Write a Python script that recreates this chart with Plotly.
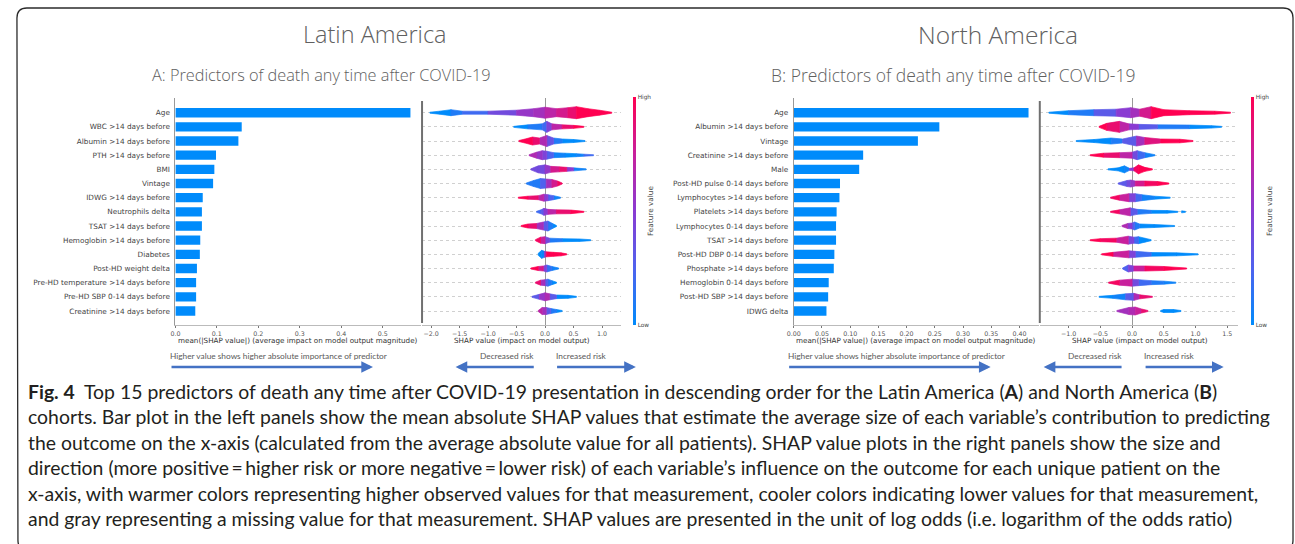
import plotly.graph_objects as go
from plotly.colors import sample_colorscale

W, H = 1295, 544

# ---------------- data ----------------
A_features = ["Age", "WBC >14 days before", "Albumin >14 days before", "PTH >14 days before",
              "BMI", "Vintage", "IDWG >14 days before", "Neutrophils delta", "TSAT >14 days before",
              "Hemoglobin >14 days before", "Diabetes", "Post-HD weight delta",
              "Pre-HD temperature >14 days before", "Pre-HD SBP 0-14 days before",
              "Creatinine >14 days before"]
A_mean_abs_shap = [0.567, 0.160, 0.152, 0.098, 0.094, 0.091, 0.066, 0.064, 0.064, 0.060,
                   0.059, 0.052, 0.050, 0.050, 0.048]

B_features = ["Age", "Albumin >14 days before", "Vintage", "Creatinine >14 days before", "Male",
              "Post-HD pulse 0-14 days before", "Lymphocytes >14 days before",
              "Platelets >14 days before", "Lymphocytes 0-14 days before", "TSAT >14 days before",
              "Post-HD DBP 0-14 days before", "Phosphate >14 days before",
              "Hemoglobin 0-14 days before", "Post-HD SBP >14 days before", "IDWG delta"]
B_mean_abs_shap = [0.416, 0.258, 0.220, 0.123, 0.116, 0.082, 0.081, 0.076, 0.075, 0.075,
                   0.072, 0.071, 0.062, 0.061, 0.058]

# SHAP value distribution per feature: SHAP value, local point density, mean feature value (0 low .. 1 high)
A_shap_x = [
    [-2.02, -1.85, -1.65, -1.45, -1.0, -0.5, -0.2, 0.0, 0.2, 0.4, 0.55, 0.75, 0.95, 1.17],
    [-0.55, -0.3, -0.05, 0.03, 0.12, 0.3, 0.5, 0.68],
    [-0.46, -0.35, -0.22, -0.1, 0.03, 0.15, 0.3, 0.5, 0.7],
    [-0.28, -0.15, -0.05, 0.03, 0.15, 0.35, 0.55, 0.68, 0.85],
    [-0.25, -0.12, 0.0, 0.1, 0.25, 0.38, 0.5, 0.72],
    [-0.33, -0.2, -0.08, 0.02, 0.12, 0.22, 0.3],
    [-0.47, -0.3, -0.12, -0.02, 0.05, 0.15, 0.27],
    [-0.15, -0.07, -0.02, 0.05, 0.2, 0.45, 0.68],
    [-0.42, -0.3, -0.15, -0.03, 0.05, 0.13, 0.2],
    [-0.17, -0.08, 0.0, 0.08, 0.3, 0.6, 0.8],
    [-0.12, -0.06, -0.01, 0.02, 0.15, 0.28, 0.38],
    [-0.25, -0.12, -0.03, 0.03, 0.12, 0.24],
    [-0.17, -0.08, 0.0, 0.05, 0.12, 0.2],
    [-0.23, -0.1, 0.0, 0.08, 0.2, 0.4, 0.55],
    [-0.12, -0.05, 0.02, 0.1, 0.2, 0.3],
]
A_shap_density = [
    [0.5, 1.5, 3.0, 1.5, 1.5, 2.5, 4.0, 5.5, 4.0, 5.0, 6.0, 4.0, 2.5, 0.5],
    [0.5, 2.0, 3.0, 5.5, 3.0, 2.0, 1.5, 0.5],
    [0.5, 2.0, 4.0, 3.0, 5.5, 3.0, 2.0, 1.5, 0.5],
    [0.5, 3.0, 4.5, 4.0, 2.5, 2.0, 1.5, 1.0, 0.5],
    [0.5, 3.5, 4.5, 3.0, 2.5, 2.0, 1.5, 0.5],
    [0.5, 3.0, 5.0, 4.5, 4.0, 2.5, 0.5],
    [0.5, 1.5, 2.0, 3.5, 3.0, 2.0, 0.5],
    [0.5, 2.0, 3.5, 2.5, 2.0, 1.8, 0.5],
    [0.5, 2.0, 2.5, 4.0, 5.0, 2.5, 0.5],
    [0.5, 3.0, 3.5, 2.0, 1.5, 1.2, 0.5],
    [1.0, 4.0, 3.0, 2.5, 2.0, 1.5, 0.5],
    [0.5, 2.0, 2.5, 3.5, 2.0, 0.5],
    [0.5, 2.5, 3.0, 3.5, 2.0, 0.5],
    [0.5, 2.5, 4.0, 3.0, 1.8, 1.5, 0.5],
    [0.5, 3.5, 3.5, 2.5, 1.5, 0.5],
]
A_shap_feature = [
    [0.0, 0.0, 0.05, 0.1, 0.35, 0.5, 0.6, 0.65, 0.75, 0.9, 0.95, 1.0, 1.0, 1.0],
    [0.0, 0.05, 0.1, 0.3, 0.6, 0.85, 0.95, 1.0],
    [1.0, 1.0, 0.95, 0.8, 0.5, 0.2, 0.05, 0.0, 0.0],
    [0.7, 0.6, 0.5, 0.4, 0.1, 0.0, 0.0, 0.1, 0.3],
    [0.4, 0.45, 0.4, 0.7, 0.9, 0.9, 0.1, 0.0],
    [0.1, 0.05, 0.1, 0.4, 0.75, 0.9, 1.0],
    [1.0, 0.95, 0.85, 0.6, 0.4, 0.1, 0.0],
    [0.2, 0.2, 0.35, 0.6, 0.85, 0.95, 1.0],
    [1.0, 1.0, 0.85, 0.4, 0.15, 0.05, 0.0],
    [1.0, 0.9, 0.6, 0.2, 0.0, 0.0, 0.0],
    [0.0, 0.0, 0.1, 1.0, 1.0, 1.0, 1.0],
    [1.0, 0.95, 0.7, 0.2, 0.1, 0.0],
    [0.9, 0.85, 0.4, 0.1, 0.05, 0.0],
    [0.2, 0.4, 0.7, 0.6, 0.05, 0.0, 0.0],
    [0.7, 0.7, 0.45, 0.2, 0.05, 0.0],
]

B_shap_x = [
    [-1.31, -1.0, -0.6, -0.25, -0.02, 0.12, 0.3, 0.5, 0.9, 1.3, 1.55],
    [-0.52, -0.4, -0.2, -0.05, 0.1, 0.4, 0.9, 1.25, 1.41],
    [-0.88, -0.6, -0.33, -0.15, 0.07, 0.2, 0.45, 0.75, 0.96],
    [-0.66, -0.45, -0.2, 0.0, 0.08, 0.2, 0.36],
    [-0.38, -0.22, -0.12, -0.04, 0.03, 0.1, 0.2, 0.32],
    [-0.22, -0.08, -0.02, 0.05, 0.2, 0.4, 0.58],
    [-0.34, -0.2, -0.05, 0.05, 0.15, 0.35, 0.6],
    [-0.34, -0.2, -0.03, 0.08, 0.3, 0.55, 0.72, None, 0.78, 0.84],
    [-0.16, -0.07, 0.0, 0.04, 0.12, 0.35, 0.67],
    [-0.66, -0.5, -0.25, -0.06, 0.03, 0.1, 0.2, 0.3],
    [-0.48, -0.3, -0.05, 0.05, 0.3, 0.7, 1.04],
    [-0.15, -0.06, 0.03, 0.2, 0.5, 0.86],
    [-0.37, -0.2, 0.0, 0.1, 0.3, 0.5, 0.69],
    [-0.52, -0.3, -0.1, 0.03, 0.12, 0.32],
    [-0.24, -0.05, 0.05, 0.15, 0.25, None, 0.45, 0.5, 0.65, 0.77],
]
B_shap_density = [
    [0.5, 2.0, 3.0, 3.5, 5.0, 3.5, 6.0, 3.0, 2.0, 1.5, 0.5],
    [0.5, 3.5, 5.5, 3.0, 2.5, 2.0, 1.8, 1.2, 0.5],
    [0.5, 1.5, 3.0, 2.0, 5.0, 3.5, 2.0, 1.8, 0.5],
    [0.5, 2.0, 2.5, 3.0, 4.5, 2.5, 0.5],
    [0.5, 1.5, 3.5, 1.0, 1.5, 4.5, 2.0, 0.5],
    [0.5, 3.0, 3.5, 2.5, 2.5, 2.0, 0.5],
    [0.5, 2.5, 4.0, 4.0, 3.0, 1.5, 0.5],
    [0.5, 2.0, 4.0, 2.5, 1.5, 1.3, 0.5, None, 1.0, 0.5],
    [0.5, 2.5, 3.0, 4.0, 2.0, 1.5, 0.5],
    [0.5, 1.5, 2.0, 4.0, 3.0, 3.5, 2.0, 0.5],
    [0.5, 2.0, 3.5, 3.0, 1.8, 1.5, 0.5],
    [0.5, 3.5, 2.5, 2.5, 2.0, 0.5],
    [0.5, 2.5, 3.5, 3.0, 2.0, 1.5, 0.5],
    [0.5, 1.5, 3.0, 3.5, 2.0, 0.5],
    [0.5, 3.5, 4.0, 2.0, 0.5, None, 0.5, 1.5, 1.5, 0.5],
]
B_shap_feature = [
    [0.0, 0.0, 0.15, 0.4, 0.55, 0.7, 0.95, 1.0, 1.0, 1.0, 1.0],
    [1.0, 1.0, 0.85, 0.6, 0.35, 0.2, 0.05, 0.0, 0.0],
    [0.0, 0.0, 0.05, 0.2, 0.45, 0.75, 0.95, 1.0, 1.0],
    [1.0, 1.0, 0.85, 0.6, 0.25, 0.1, 0.0],
    [0.0, 0.0, 0.0, 0.1, 0.9, 1.0, 1.0, 1.0],
    [0.3, 0.35, 0.4, 0.7, 0.9, 1.0, 1.0],
    [1.0, 0.9, 0.6, 0.3, 0.1, 0.0, 0.0],
    [1.0, 0.9, 0.5, 0.15, 0.05, 0.0, 0.0, None, 0.0, 0.0],
    [0.7, 0.6, 0.4, 0.1, 0.05, 0.0, 0.0],
    [1.0, 1.0, 0.9, 0.6, 0.3, 0.05, 0.0, 0.0],
    [1.0, 0.95, 0.6, 0.3, 0.05, 0.0, 0.0],
    [0.2, 0.3, 0.6, 0.9, 1.0, 1.0],
    [1.0, 0.9, 0.55, 0.3, 0.1, 0.1, 0.0],
    [0.0, 0.0, 0.1, 0.5, 0.8, 1.0],
    [0.6, 0.6, 0.7, 0.85, 1.0, None, 0.0, 0.0, 0.0, 0.0],
]

A_ticks_bar = [0.0, 0.1, 0.2, 0.3, 0.4, 0.5]
A_ticks_swarm = [-2.0, -1.5, -1.0, -0.5, 0.0, 0.5, 1.0]
B_ticks_bar = [0.00, 0.05, 0.10, 0.15, 0.20, 0.25, 0.30, 0.35, 0.40]
B_ticks_swarm = [-1.0, -0.5, 0.0, 0.5, 1.0, 1.5]

# ---------------- styling ----------------
SHAP_BLUE = "#008bfb"
RED_BLUE = [[0.0, "#008bfb"], [0.25, "#4f62ee"], [0.5, "#8a3bd2"], [0.75, "#c8209c"], [1.0, "#ff0051"]]
TICK_FONT = dict(family="DejaVu Sans", size=6.3, color="#555555")
LABEL_FONT = dict(family="DejaVu Sans", size=7.3, color="#444444")
ROW_PX = 14.16          # vertical spacing of feature rows in pixels
DENS_SCALE = 1.0 / ROW_PX


def xf(px):
    return px / W


def yf(py):
    return 1 - py / H


Y_DOMAIN = [yf(325), yf(98)]
Y_RANGE = [14 + (325 - 311) / ROW_PX, -(112.7 - 98) / ROW_PX]

fig = go.Figure()


def add_bars(names, vals, xa, ya):
    fig.add_trace(go.Bar(x=vals, y=list(range(len(vals))), orientation="h", width=0.66,
                         marker=dict(color=SHAP_BLUE, line=dict(width=0)),
                         xaxis=xa, yaxis=ya, hoverinfo="skip", showlegend=False))


def add_swarm(xs_rows, dens_rows, fv_rows, xa, ya):
    buckets = {}
    for r, (xs, ds, fs) in enumerate(zip(xs_rows, dens_rows, fv_rows)):
        for i in range(len(xs) - 1):
            if xs[i] is None or xs[i + 1] is None:
                continue
            c = round((fs[i] + fs[i + 1]) / 2 * 20) / 20
            h0, h1 = ds[i] * DENS_SCALE, ds[i + 1] * DENS_SCALE
            bx, by = buckets.setdefault(c, ([], []))
            bx += [xs[i], xs[i + 1], xs[i + 1], xs[i], xs[i], None]
            by += [r - h0, r - h1, r + h1, r + h0, r - h0, None]
    for c, (bx, by) in sorted(buckets.items()):
        col = sample_colorscale(RED_BLUE, [c])[0]
        fig.add_trace(go.Scatter(x=bx, y=by, mode="lines", fill="toself", fillcolor=col,
                                 line=dict(color=col, width=0.7), xaxis=xa, yaxis=ya,
                                 hoverinfo="skip", showlegend=False))


def add_colorbar(xa, ya, x_px):
    fig.add_trace(go.Scatter(x=[1e6, 1e6], y=[0, 0], mode="markers", xaxis=xa, yaxis=ya,
                             marker=dict(color=[0, 1], colorscale=RED_BLUE, cmin=0, cmax=1, size=1,
                                         showscale=True,
                                         colorbar=dict(thickness=3, len=(325 - 97) / H, lenmode="fraction",
                                                       y=yf((97 + 325) / 2), yanchor="middle",
                                                       x=xf(x_px), xanchor="left", xpad=0, ypad=0,
                                                       outlinewidth=0, tickvals=[0, 1],
                                                       ticktext=["Low", "High"], ticks="",
                                                       tickfont=dict(family="DejaVu Sans", size=5.8,
                                                                     color="#444"),
                                                       title=dict(text="Feature value", side="right",
                                                                  font=dict(family="DejaVu Sans", size=7.3,
                                                                            color="#444")))),
                             hoverinfo="skip", showlegend=False))


add_bars(A_features, A_mean_abs_shap, "x", "y")
add_swarm(A_shap_x, A_shap_density, A_shap_feature, "x2", "y2")
add_colorbar("x2", "y2", 629.5)
add_bars(B_features, B_mean_abs_shap, "x3", "y3")
add_swarm(B_shap_x, B_shap_density, B_shap_feature, "x4", "y4")
add_colorbar("x4", "y4", 1251)

xbase = dict(showgrid=False, zeroline=False, showline=True, linecolor="#bbbbbb", linewidth=0.8,
             ticks="outside", ticklen=2.5, tickwidth=0.6, tickcolor="#777", tickfont=TICK_FONT,
             fixedrange=True)
bar_y = dict(domain=Y_DOMAIN, range=Y_RANGE, tickmode="array", showgrid=False, zeroline=False,
             showline=True, linecolor="#999999", linewidth=1, ticks="", tickfont=LABEL_FONT,
             ticklabelstandoff=3)
swarm_y = dict(domain=Y_DOMAIN, range=Y_RANGE, tickmode="array", tickvals=list(range(15)),
               showticklabels=False, showgrid=True, gridcolor="#d0d0d0", gridwidth=0.5, griddash="dot",
               zeroline=False, showline=False, ticks="")

fig.update_layout(
    width=W, height=H, margin=dict(l=0, r=0, t=0, b=0), paper_bgcolor="white", plot_bgcolor="white",
    showlegend=False,
    xaxis=dict(xbase, domain=[xf(169.3), xf(416.7)], range=[0, (416.7 - 169.3) / 416.8],
               tickvals=A_ticks_bar, ticktext=[f"{v:.1f}" for v in A_ticks_bar], anchor="y"),
    yaxis=dict(bar_y, tickvals=list(range(15)), ticktext=A_features, anchor="x"),
    xaxis2=dict(xbase, domain=[xf(417.5), xf(617)], range=[(417.5 - 541) / 57.33, (617 - 541) / 57.33],
                tickvals=A_ticks_swarm, ticktext=[f"{v:.1f}".replace("-", "\u2212") for v in A_ticks_swarm],
                zeroline=True, zerolinecolor="#999999", zerolinewidth=0.7, anchor="y2"),
    yaxis2=dict(swarm_y, anchor="x2"),
    xaxis3=dict(xbase, domain=[xf(791), xf(1038)], range=[0, (1038 - 791) / 567.5],
                tickvals=B_ticks_bar, ticktext=[f"{v:.2f}" for v in B_ticks_bar], anchor="y3"),
    yaxis3=dict(bar_y, tickvals=list(range(15)), ticktext=B_features, anchor="x3"),
    xaxis4=dict(xbase, domain=[xf(1038.8), xf(1238)],
                range=[(1038.8 - 1131.2) / 63.84, (1238 - 1131.2) / 63.84],
                tickvals=B_ticks_swarm, ticktext=[f"{v:.1f}".replace("-", "\u2212") for v in B_ticks_swarm],
                zeroline=True, zerolinecolor="#999999", zerolinewidth=0.7, anchor="y4"),
    yaxis4=dict(swarm_y, anchor="x4"),
)

# frame and panel separators
shapes = [
    dict(type="path", xref="paper", yref="paper",
         path=(f"M {xf(10)},{yf(18)} Q {xf(10)},{yf(8)} {xf(20)},{yf(8)} L {xf(1283)},{yf(8)} "
               f"Q {xf(1293)},{yf(8)} {xf(1293)},{yf(18)} L {xf(1293)},{yf(540)} "
               f"Q {xf(1293)},{yf(550)} {xf(1283)},{yf(550)} L {xf(20)},{yf(550)} "
               f"Q {xf(11)},{yf(550)} {xf(11)},{yf(540)} Z"),
         line=dict(color="#2b2b2b", width=1.3), fillcolor="rgba(0,0,0,0)"),
]
for sx in (417.3, 1038.4):
    shapes.append(dict(type="line", xref="paper", yref="paper", x0=xf(sx), x1=xf(sx),
                       y0=yf(101), y1=yf(323), line=dict(color="#707070", width=2)))
fig.update_layout(shapes=shapes)

ann = []
TITLE_GREY = "#606060"
ann.append(dict(text="Latin America", x=xf(370), y=yf(34), xanchor="center",
                font=dict(family="Open Sans", size=23.5, color=TITLE_GREY, weight=300)))
ann.append(dict(text="North America", x=xf(996), y=yf(34), xanchor="center",
                font=dict(family="Open Sans", size=24.5, color=TITLE_GREY, weight=300)))
ann.append(dict(text="A: Predictors of death any time after COVID-19", x=xf(316), y=yf(75),
                xanchor="center", font=dict(family="Open Sans", size=16.3, color=TITLE_GREY, weight=300)))
ann.append(dict(text="B: Predictors of death any time after COVID-19", x=xf(951), y=yf(75),
                xanchor="center", font=dict(family="Open Sans", size=17.5, color=TITLE_GREY, weight=300)))

for cx, txt in ((292.5, "mean(|SHAP value|) (average impact on model output magnitude)"),
                (517.5, "SHAP value (impact on model output)"),
                (914, "mean(|SHAP value|) (average impact on model output magnitude)"),
                (1139, "SHAP value (impact on model output)")):
    ann.append(dict(text=txt, x=xf(cx), y=yf(340), xanchor="center",
                    font=dict(family="DejaVu Sans", size=7.2, color="#333333")))

NOTE_FONT = dict(family="Lato", size=8.3, color="#595959")
for lx, dx, ix in ((162, 532, 549.5), (783, 1123, 1141)):
    ann.append(dict(text="Higher value shows higher absolute importance of predictor", x=xf(lx),
                    y=yf(356), xanchor="left", font=NOTE_FONT))
    ann.append(dict(text="Decreased risk", x=xf(dx), y=yf(356), xanchor="right", font=NOTE_FONT))
    ann.append(dict(text="Increased risk", x=xf(ix), y=yf(356), xanchor="left", font=NOTE_FONT))

ARROW = "#4472c4"
for tail, head in ((165, 368), (530.7, 451), (552, 632.3), (786, 989), (1121.7, 1042.3), (1143.7, 1223.3)):
    ann.append(dict(text="", x=xf(head), y=yf(367), ax=tail - head, ay=0, axref="pixel", ayref="pixel",
                    showarrow=True, arrowhead=2, arrowsize=0.9, arrowwidth=2.6, arrowcolor=ARROW,
                    standoff=0, startstandoff=0))

CAP_FONT = dict(family="Lato", size=19.4, color="#231f20")
caption = [
    "<b>Fig. 4</b>  Top 15 predictors of death any time after COVID-19 presentation in descending order "
    "for the Latin America (<b>A</b>) and North America (<b>B</b>)",
    "cohorts. Bar plot in the left panels show the mean absolute SHAP values that estimate the average size "
    "of each variable\u2019s contribution to predicting",
    "the outcome on the x-axis (calculated from the average absolute value for all patients). SHAP value "
    "plots in the right panels show the size and",
    "direction (more positive\u2009=\u2009higher risk or more negative\u2009=\u2009lower risk) of each "
    "variable\u2019s influence on the outcome for each unique patient on the",
    "x-axis, with warmer colors representing higher observed values for that measurement, cooler colors "
    "indicating lower values for that measurement,",
    "and gray representing a missing value for that measurement. SHAP values are presented in the unit of "
    "log odds (i.e. logarithm of the odds ratio)",
]
for i, line in enumerate(caption):
    ann.append(dict(text=line, x=xf(19), y=yf(391 + 25.5 * i), xanchor="left", font=CAP_FONT))

for a in ann:
    a.setdefault("xref", "paper")
    a.setdefault("yref", "paper")
    a.setdefault("showarrow", False)
    a.setdefault("yanchor", "middle")
fig.update_layout(annotations=ann)

fig.write_html("out.html")
